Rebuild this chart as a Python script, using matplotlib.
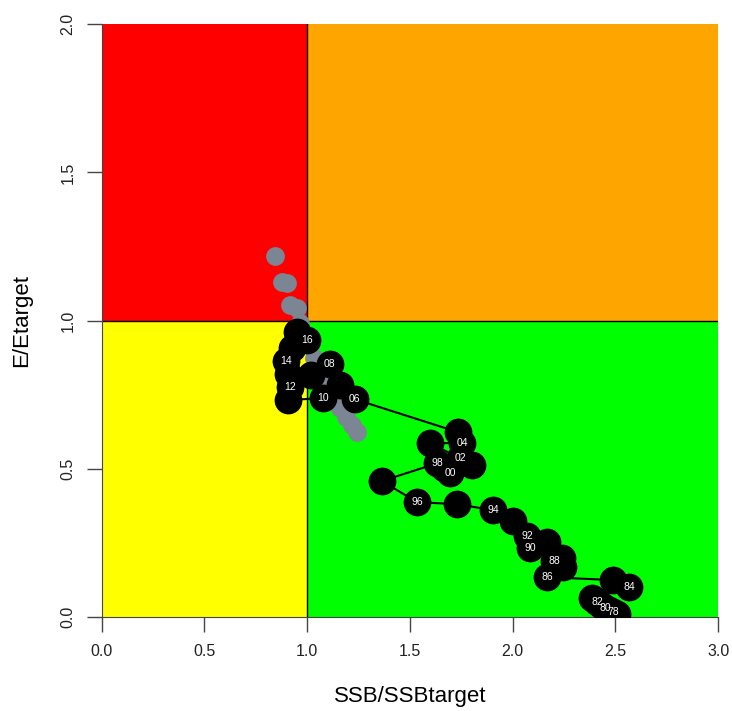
import matplotlib
matplotlib.use("Agg")
import matplotlib.pyplot as plt

plt.rcParams['font.family'] = ['Liberation Sans', 'DejaVu Sans']

years = list(range(1977, 2018))
ssb = [2.508, 2.489, 2.469, 2.450, 2.430, 2.411, 2.386, 2.567, 2.489, 2.167,
       2.245, 2.201, 2.240, 2.084, 2.167, 2.070, 2.002, 1.904, 1.729, 1.534,
       1.364, 1.632, 1.666, 1.695, 1.802, 1.744, 1.597, 1.753, 1.734, 1.232,
       1.159, 1.110, 1.018, 1.076, 0.906, 0.916, 0.906, 0.896, 0.925, 0.998,
       0.950]
eff = [0.010, 0.017, 0.024, 0.030, 0.040, 0.051, 0.064, 0.101, 0.125, 0.135,
       0.169, 0.189, 0.199, 0.233, 0.253, 0.273, 0.324, 0.361, 0.381, 0.388,
       0.459, 0.519, 0.503, 0.486, 0.513, 0.536, 0.587, 0.587, 0.624, 0.735,
       0.782, 0.853, 0.816, 0.739, 0.732, 0.776, 0.820, 0.863, 0.907, 0.934,
       0.961]

proj_ssb = [0.843, 0.877, 0.901, 0.916, 0.950, 0.964, 0.989, 1.013, 1.033,
            1.052, 1.072, 1.101, 1.130, 1.159, 1.188, 1.218, 1.242]
proj_eff = [1.218, 1.130, 1.126, 1.052, 1.042, 0.992, 0.951, 0.917, 0.874,
            0.840, 0.806, 0.772, 0.739, 0.705, 0.675, 0.648, 0.624]

xticks = [0.0, 0.5, 1.0, 1.5, 2.0, 2.5, 3.0]
yticks = [0.0, 0.5, 1.0, 1.5, 2.0]

fig = plt.figure(figsize=(7.32, 7.11), dpi=100)
ax = fig.add_axes([0.139, 0.132, 0.842, 0.834])
ax.set_xlim(0, 3)
ax.set_ylim(0, 2)

ax.fill_between([0, 1], 1, 2, color='#FF0000', lw=0, zorder=0)
ax.fill_between([1, 3], 1, 2, color='#FFA500', lw=0, zorder=0)
ax.fill_between([0, 1], 0, 1, color='#FFFF00', lw=0, zorder=0)
ax.fill_between([1, 3], 0, 1, color='#00FF00', lw=0, zorder=0)
ax.axvline(1, color='black', lw=1, zorder=1)
ax.axhline(1, color='black', lw=1, zorder=1)

ax.plot(proj_ssb, proj_eff, 'o', color='#7b8593', ms=13.5, mec='none', zorder=2)
ax.plot(ssb, eff, '-', color='black', lw=1.5, zorder=3)
ax.plot(ssb, eff, 'o', color='black', ms=20, mec='none', zorder=4)
for yr, x, y in zip(years, ssb, eff):
    if yr % 2 == 0:
        ax.text(x, y, f"{yr % 100:02d}", color='white', fontsize=7.5,
                ha='center', va='center', zorder=5)

for s in ['top', 'right']:
    ax.spines[s].set_visible(False)
ax.spines['left'].set_color('#444444')
ax.spines['bottom'].set_color('#444444')
ax.set_xticks(xticks)
ax.set_yticks(yticks)
ax.set_xticklabels([f"{v:.1f}" for v in xticks])
ax.set_yticklabels([f"{v:.1f}" for v in yticks], rotation=90, va='center')
ax.tick_params(axis='both', length=11, width=1, color='#444444',
               labelsize=11.5, pad=8, labelcolor='#222222')
ax.set_xlabel('SSB/SSBtarget', fontsize=16, labelpad=20)
ax.set_ylabel('E/Etarget', fontsize=16, labelpad=20)

fig.savefig('out.png', dpi=100)
